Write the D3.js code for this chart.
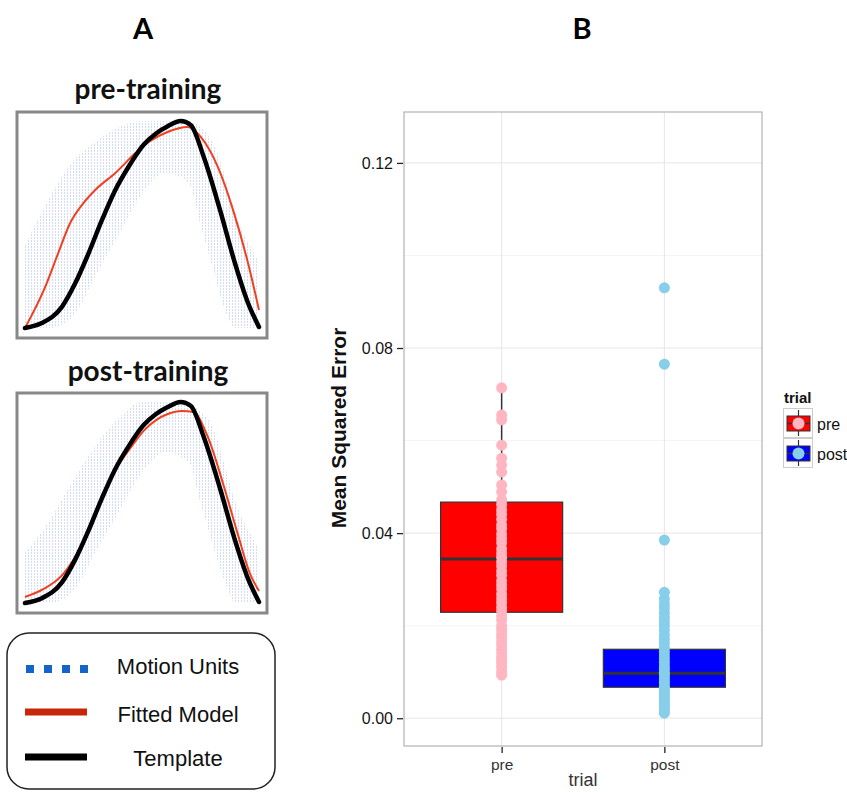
<!DOCTYPE html>
<html><head><meta charset="utf-8">
<script src="https://cdn.jsdelivr.net/npm/d3@7"></script>
<style>body{margin:0;background:#fff}svg{display:block}</style>
</head><body>
<script>
// ---------- Panel A data (normalized time %, normalized amplitude) ----------
const templateX = [0,7.2,15.7,21.5,27.2,32.9,38.6,44.2,50.6,56,61,66.5,70.8,76.4,83.7,89.3,95.3,100];
const templateY = [0,0.024,0.101,0.217,0.362,0.522,0.667,0.778,0.884,0.94,0.975,1.0,0.981,0.826,0.556,0.329,0.121,0.005];
const preFitX = [0,8.6,14.2,19.3,24.3,30,38.6,47.2,53,60.9,69.5,75.1,82.4,89.3,95.3,100];
const preFitY = [0,0.198,0.362,0.507,0.594,0.667,0.749,0.845,0.9,0.947,0.971,0.923,0.778,0.556,0.314,0.087];
const postFitX = [0,8,16,22,28,33,39,45,51,56,61,67,72,78,85,91,96,100];
const postFitY = [0.03,0.07,0.14,0.24,0.38,0.53,0.67,0.77,0.86,0.91,0.94,0.955,0.95,0.83,0.58,0.34,0.15,0.06];
const envX = [0,10,20,30,40,50,60,70,75,80,85,90,95,100];
const preEnvHi = [0.4,0.62,0.8,0.9,0.97,1.0,1.0,1.0,0.97,0.9,0.75,0.55,0.42,0.32];
const preEnvLo = [0,0,0.05,0.25,0.45,0.65,0.75,0.7,0.5,0.3,0.1,0,0,0];
const postEnvHi = [0.25,0.4,0.6,0.78,0.92,1.0,1.0,1.0,0.95,0.88,0.7,0.5,0.37,0.27];
const postEnvLo = [0,0,0.05,0.25,0.45,0.65,0.75,0.7,0.5,0.3,0.12,0,0,0];
const legendALabels = ["Motion Units","Fitted Model","Template"];

// ---------- Panel B data ----------
const trials = ["pre","post"];
const preMSE = [0.0714,0.0655,0.0645,0.0590,0.0562,0.0547,0.0532,0.0504,0.0489,0.0472,0.0462,0.0450,0.0441,0.0430,0.0418,0.0410,0.0398,0.0388,0.0379,0.0366,0.0356,0.0348,0.0338,0.0329,0.0318,0.0309,0.0297,0.0288,0.0279,0.0268,0.0259,0.0250,0.0240,0.0232,0.0221,0.0212,0.0200,0.0192,0.0183,0.0175,0.0166,0.0158,0.0149,0.0140,0.0131,0.0125,0.0118,0.0110,0.0100,0.0093];
const postMSE = [0.0930,0.0765,0.0385,0.0272,0.0258,0.0247,0.0238,0.0228,0.0218,0.0209,0.0200,0.0190,0.0180,0.0171,0.0162,0.0153,0.0145,0.0137,0.0129,0.0121,0.0113,0.0106,0.0099,0.0094,0.0089,0.0083,0.0078,0.0072,0.0067,0.0061,0.0056,0.0050,0.0044,0.0039,0.0033,0.0028,0.0022,0.0017,0.0011];
const boxQ1 = [0.0229,0.0067];
const boxMed = [0.0344,0.0097];
const boxQ3 = [0.0467,0.0149];
const whiskLo = [0.0093,0.0011];
const whiskHi = [0.0714,0.0272];
const yTicks = [0.00,0.04,0.08,0.12];
const yMinor = [0.02,0.06,0.10];
const boxFill = ["#ff0000","#0000ff"];
const ptFill = ["#ffb6c1","#87ceeb"];

const W=847,H=792;
const svg=d3.select("body").append("svg").attr("width",W).attr("height",H);
const SANS="'Liberation Sans', Arial, Helvetica, sans-serif";
const LATO="Lato, 'Open Sans', sans-serif";

// pattern for motion units
const defs=svg.append("defs");
const pat=defs.append("pattern").attr("id","mu").attr("width",3).attr("height",3).attr("patternUnits","userSpaceOnUse");
pat.append("rect").attr("x",1).attr("y",0).attr("width",1).attr("height",2).attr("fill","#4a74e6").attr("opacity",0.25);

// Panel letters
svg.append("text").attr("x",143).attr("y",39).attr("text-anchor","middle").attr("font-family",LATO).attr("font-weight","bold").attr("font-size",29).text("A");
svg.append("text").attr("x",582).attr("y",39).attr("text-anchor","middle").attr("font-family",LATO).attr("font-weight","bold").attr("font-size",29).text("B");

function drawA(box, title, titleY, fitX, fitY, envHi, envLo){
  svg.append("text").attr("x",148).attr("y",titleY).attr("text-anchor","middle").attr("font-family",LATO).attr("font-weight","bold").attr("font-size",28).attr("fill","#111").text(title);
  svg.append("rect").attr("x",box.x).attr("y",box.y).attr("width",box.w).attr("height",box.h).attr("fill","#fff").attr("stroke","#888").attr("stroke-width",3);
  const x=d3.scaleLinear().domain([0,100]).range([box.x+8,box.x+box.w-8]);
  const y=d3.scaleLinear().domain([0,1]).range([box.y+box.h-10,box.y+9]);
  const env=envX.map((v,i)=>({x:v,lo:envLo[i],hi:envHi[i]}));
  svg.append("path").datum(env).attr("d",d3.area().x(d=>x(d.x)).y0(d=>y(d.lo)).y1(d=>y(d.hi)).curve(d3.curveMonotoneX)).attr("fill","url(#mu)");
  const fit=fitX.map((v,i)=>[v,fitY[i]]);
  const tpl=templateX.map((v,i)=>[v,templateY[i]]);
  const line=d3.line().x(d=>x(d[0])).y(d=>y(d[1])).curve(d3.curveMonotoneX);
  svg.append("path").datum(fit).attr("d",line).attr("fill","none").attr("stroke","#f0401e").attr("stroke-width",2);
  svg.append("path").datum(tpl).attr("d",line).attr("fill","none").attr("stroke","#000").attr("stroke-width",4.5).attr("stroke-linecap","round");
}
drawA({x:17,y:112,w:250,h:226},"pre-training",99,preFitX,preFitY,preEnvHi,preEnvLo);
drawA({x:17,y:393,w:250,h:220},"post-training",381,postFitX,postFitY,postEnvHi,postEnvLo);

// Legend A
svg.append("rect").attr("x",7).attr("y",633).attr("width",268).attr("height",156).attr("rx",22).attr("fill","#fff").attr("stroke","#222").attr("stroke-width",1.5);
const lgY=[669,712,757];
const lgBase=[674,722,766];
[0,1,2,3].forEach(i=>svg.append("rect").attr("x",26+i*18).attr("y",lgY[0]-4).attr("width",8).attr("height",8).attr("fill","#1565c8"));
svg.append("line").attr("x1",25).attr("x2",87).attr("y1",lgY[1]).attr("y2",lgY[1]).attr("stroke","#c8260a").attr("stroke-width",7);
svg.append("line").attr("x1",25).attr("x2",87).attr("y1",lgY[2]).attr("y2",lgY[2]).attr("stroke","#000").attr("stroke-width",7);
legendALabels.forEach((t,i)=>svg.append("text").attr("x",178).attr("y",lgBase[i]).attr("text-anchor","middle").attr("font-family",SANS).attr("font-size",22).attr("fill","#111").text(t));

// ---------- Panel B ----------
const L=404,R=762,T=112,B=746;
const xs=d3.scalePoint().domain(trials).range([L,R]).padding(0.6);
const ys=d3.scaleLinear().domain([-0.006,0.131]).range([B,T]);
const g=svg.append("g");
g.append("rect").attr("x",L).attr("y",T).attr("width",R-L).attr("height",B-T).attr("fill","#fff");
yMinor.forEach(v=>g.append("line").attr("x1",L).attr("x2",R).attr("y1",ys(v)).attr("y2",ys(v)).attr("stroke","#f4f4f4").attr("stroke-width",1));
yTicks.forEach(v=>g.append("line").attr("x1",L).attr("x2",R).attr("y1",ys(v)).attr("y2",ys(v)).attr("stroke","#e6e6e6").attr("stroke-width",1));
trials.forEach(t=>g.append("line").attr("x1",xs(t)).attr("x2",xs(t)).attr("y1",T).attr("y2",B).attr("stroke","#e6e6e6").attr("stroke-width",1));

const bw=xs.step()*0.75;
trials.forEach((t,i)=>{
  const cx=xs(t);
  g.append("line").attr("x1",cx).attr("x2",cx).attr("y1",ys(whiskHi[i])).attr("y2",ys(whiskLo[i])).attr("stroke","#333").attr("stroke-width",1.5);
  g.append("rect").attr("x",cx-bw/2).attr("y",ys(boxQ3[i])).attr("width",bw).attr("height",ys(boxQ1[i])-ys(boxQ3[i])).attr("fill",boxFill[i]).attr("stroke","#333").attr("stroke-width",1.2);
  g.append("line").attr("x1",cx-bw/2).attr("x2",cx+bw/2).attr("y1",ys(boxMed[i])).attr("y2",ys(boxMed[i])).attr("stroke","#333").attr("stroke-width",3);
});
[preMSE,postMSE].forEach((arr,i)=>{
  g.selectAll(null).data(arr).enter().append("circle").attr("cx",xs(trials[i])).attr("cy",d=>ys(d)).attr("r",5.5).attr("fill",ptFill[i]);
});
g.append("rect").attr("x",L).attr("y",T).attr("width",R-L).attr("height",B-T).attr("fill","none").attr("stroke","#b3b3b3").attr("stroke-width",1.2);

// axes
const yAxis=d3.axisLeft(ys).tickValues(yTicks).tickFormat(d3.format(".2f")).tickSize(6).tickPadding(4);
const ya=svg.append("g").attr("transform",`translate(${L-1},0)`).call(yAxis);
ya.attr("font-size",null).attr("font-family",null);
ya.select(".domain").remove();
ya.selectAll("line").attr("stroke","#222").attr("stroke-width",1.3);
ya.selectAll("text").style("font-family",SANS).style("font-size","16px").attr("fill","#151515");
const xAxis=d3.axisBottom(xs).tickSize(6).tickPadding(6);
const xa=svg.append("g").attr("transform",`translate(0,${B+1})`).call(xAxis);
xa.attr("font-size",null).attr("font-family",null);
xa.select(".domain").remove();
xa.selectAll("line").attr("stroke","#222").attr("stroke-width",1.3);
xa.selectAll("text").style("font-family",SANS).style("font-size","15.5px").attr("fill","#333");
svg.append("text").attr("x",(L+R)/2).attr("y",786).attr("text-anchor","middle").attr("font-family",SANS).attr("font-size",18).attr("fill","#333").text("trial");
svg.append("text").attr("transform",`translate(346,428) rotate(-90)`).attr("text-anchor","middle").attr("font-family",SANS).attr("font-weight","bold").attr("font-size",21).attr("fill","#111").text("Mean Squared Error");

// legend B
svg.append("text").attr("x",784).attr("y",403).attr("font-family",SANS).attr("font-weight","bold").attr("font-size",15).attr("fill","#111").text("trial");
trials.forEach((t,i)=>{
  const ky=408+i*30;
  svg.append("rect").attr("x",783.5).attr("y",ky+0.5).attr("width",29).attr("height",29).attr("fill","#fff").attr("stroke","#ccc").attr("stroke-width",1);
  svg.append("line").attr("x1",798.5).attr("x2",798.5).attr("y1",ky+2).attr("y2",ky+28).attr("stroke","#333").attr("stroke-width",1.2);
  svg.append("rect").attr("x",787).attr("y",ky+8).attr("width",23).attr("height",15).attr("fill",boxFill[i]).attr("stroke","#333").attr("stroke-width",1);
  svg.append("line").attr("x1",787).attr("x2",810).attr("y1",ky+15.5).attr("y2",ky+15.5).attr("stroke","#333").attr("stroke-width",1.5);
  svg.append("circle").attr("cx",798.5).attr("cy",ky+15.5).attr("r",6).attr("fill",ptFill[i]);
  svg.append("text").attr("x",817).attr("y",ky+22).attr("font-family",SANS).attr("font-size",16).attr("fill","#111").text(t);
});
</script>
</body></html>
